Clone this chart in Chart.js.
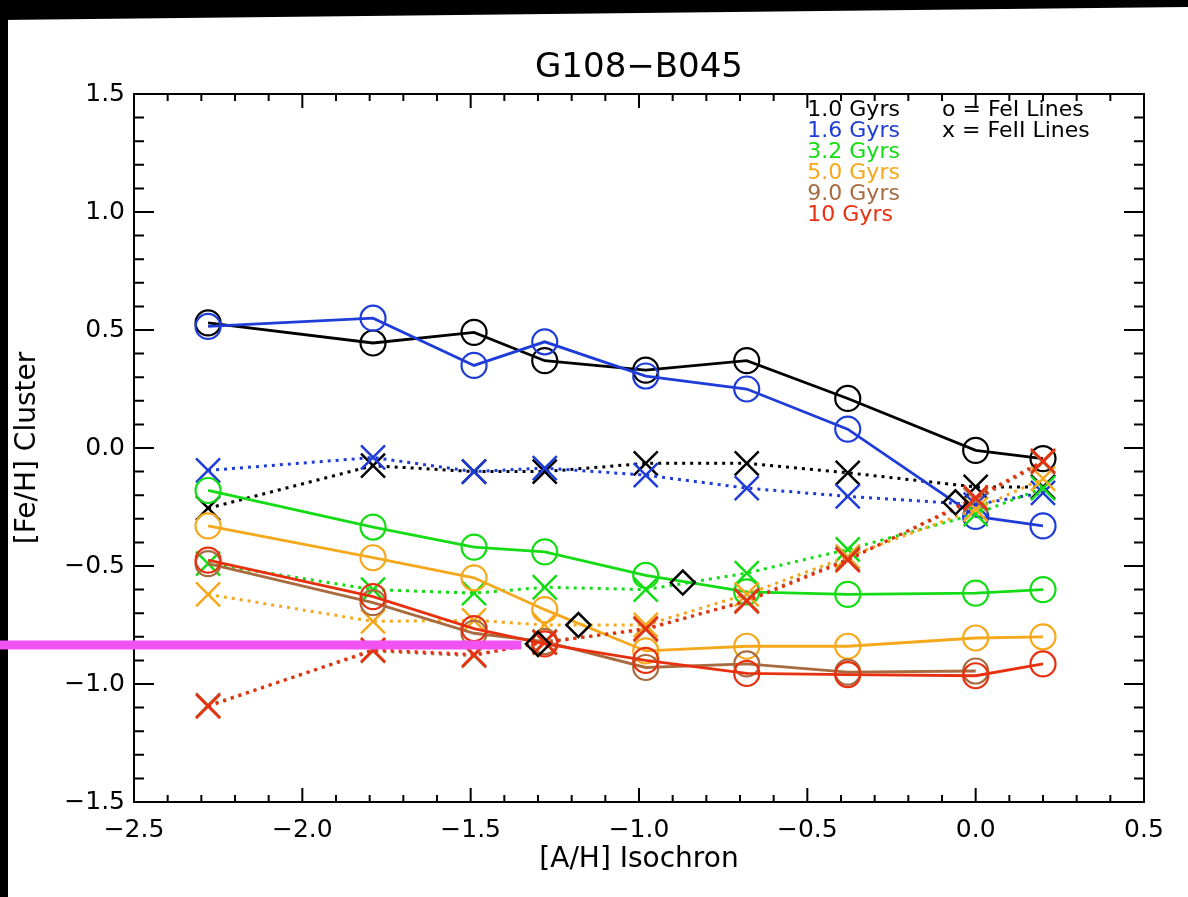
<!DOCTYPE html>
<html>
<head>
<meta charset="utf-8">
<title>G108-B045</title>
<style>
  html, body { margin: 0; padding: 0; background: #fff; }
  #wrap { width: 1188px; height: 897px; position: relative; }
</style>
<script src="https://cdn.jsdelivr.net/npm/chart.js@4.4.0/dist/chart.umd.min.js"></script>
</head>
<body>
<div id="wrap"><canvas id="chart"></canvas></div>
<script>
// [A/H] of the isochrones (x positions of every point)
const isoAH = [-2.28, -1.79, -1.49, -1.28, -0.98, -0.68, -0.38, 0.0, 0.2];

// [Fe/H] from FeI lines (circles, solid)
const feI_1p0 = [0.53, 0.445, 0.49, 0.37, 0.33, 0.37, 0.21, -0.01, -0.045];
const feI_1p6 = [0.515, 0.55, 0.35, 0.45, 0.305, 0.25, 0.08, -0.29, -0.33];
const feI_3p2 = [-0.18, -0.335, -0.42, -0.44, -0.54, -0.61, -0.62, -0.615, -0.60];
const feI_5p0 = [-0.33, -0.465, -0.55, -0.685, -0.86, -0.84, -0.84, -0.805, -0.80];
const feI_9p0 = [-0.49, -0.655, -0.785, -0.82, -0.93, -0.915, -0.95, -0.945, null];
const feI_10 = [-0.475, -0.63, -0.765, -0.83, -0.90, -0.955, -0.96, -0.965, -0.915];

// [Fe/H] from FeII lines (crosses, dotted)
const feII_1p0 = [-0.255, -0.075, -0.10, -0.10, -0.065, -0.065, -0.105, -0.165, -0.165];
const feII_1p6 = [-0.095, -0.04, -0.10, -0.085, -0.115, -0.17, -0.205, -0.24, -0.19];
const feII_3p2 = [-0.49, -0.60, -0.615, -0.59, -0.60, -0.53, -0.43, -0.28, -0.17];
const feII_5p0 = [-0.62, -0.735, -0.73, -0.75, -0.75, -0.62, -0.46, -0.26, -0.13];
const feII_9p0 = [-1.09, -0.86, -0.88, -0.82, -0.77, -0.645, -0.47, -0.22, -0.06];
const feII_10 = [-1.095, -0.855, -0.875, -0.825, -0.765, -0.65, -0.475, -0.21, -0.055];

// FeI = FeII crossings (diamonds)
const crossAH = [-0.06, -0.87, -1.18, -1.30];
const crossFe = [-0.23, -0.57, -0.75, -0.83];

// final value marker (magenta bar)
const resultAH = [-2.9, -1.35];
const resultFe = -0.835;

const ageLabels = ['1.0 Gyrs', '1.6 Gyrs', '3.2 Gyrs', '5.0 Gyrs', '9.0 Gyrs', '10 Gyrs'];
const ageColors = ['#000000', '#1e3cd7', '#14dc14', '#f5a81c', '#a86a3f', '#e8300f'];
const lineKeys = ['o = FeI Lines', 'x = FeII Lines'];

const xTicks = { min: -2.5, max: 0.5, step: 0.5 };
const yTicks = { min: -1.5, max: 1.5, step: 0.5 };

const FONT = '"DejaVu Sans", "Liberation Sans", sans-serif';

function pts(arr) {
  return isoAH.map((x, i) => ({ x: x, y: arr[i] }));
}

const feI = [feI_1p0, feI_1p6, feI_3p2, feI_5p0, feI_9p0, feI_10];
const feII = [feII_1p0, feII_1p6, feII_3p2, feII_5p0, feII_9p0, feII_10];

let datasets = [];
ageLabels.forEach((lab, k) => {
  datasets.push({
    label: lab + ' FeI',
    data: pts(feI[k]),
    showLine: true,
    borderColor: ageColors[k],
    borderWidth: 2.8,
    pointStyle: 'circle',
    pointRadius: 12.5,
    pointBorderWidth: 2.2,
    pointBackgroundColor: 'rgba(0,0,0,0)',
    pointBorderColor: ageColors[k]
  });
  datasets.push({
    label: lab + ' FeII',
    data: pts(feII[k]),
    showLine: true,
    borderColor: ageColors[k],
    borderWidth: 3,
    borderDash: [3, 5],
    pointStyle: 'crossRot',
    pointRadius: 17,
    pointBorderWidth: 2.5,
    pointBorderColor: ageColors[k]
  });
});
datasets.push({
  label: 'crossings',
  data: crossAH.map((x, i) => ({ x: x, y: crossFe[i] })),
  showLine: false,
  pointStyle: 'rectRot',
  pointRadius: 12,
  pointBorderWidth: 2.5,
  pointBorderColor: '#000',
  pointBackgroundColor: 'rgba(0,0,0,0)'
});
datasets.push({
  label: 'result',
  data: resultAH.map(x => ({ x: x, y: resultFe })),
  showLine: true,
  borderColor: '#f252f2',
  borderWidth: 9,
  borderCapStyle: 'butt',
  pointRadius: 0,
  clip: false
});
// later entries go on top, like the original plotting order
datasets.forEach((d, i) => { d.order = datasets.length - i; });

function fmt(v) {
  return v.toFixed(1).replace('-', '\u2212');
}

const framePlugin = {
  id: 'frame',
  beforeDraw(chart) {
    const ctx = chart.ctx;
    ctx.save();
    ctx.fillStyle = '#fff';
    ctx.fillRect(0, 0, chart.width, chart.height);
    ctx.fillStyle = '#000';
    ctx.beginPath();
    ctx.moveTo(0, 0);
    ctx.lineTo(chart.width, 0);
    ctx.lineTo(chart.width, 7);
    ctx.lineTo(0, 20);
    ctx.closePath();
    ctx.fill();
    ctx.fillRect(0, 0, 8, chart.height);
    ctx.restore();
  },
  beforeDatasetsDraw(chart) {
    const ctx = chart.ctx;
    const a = chart.chartArea;
    const xs = chart.scales.x, ys = chart.scales.y;
    ctx.save();
    ctx.strokeStyle = '#000';
    ctx.lineWidth = 2;
    ctx.strokeRect(a.left, a.top, a.right - a.left, a.bottom - a.top);
    ctx.beginPath();
    for (let i = 0; i <= 30; i++) {
      const px = xs.getPixelForValue(xTicks.min + i * 0.1);
      const len = i % 5 === 0 ? 14 : 7;
      ctx.moveTo(px, a.bottom); ctx.lineTo(px, a.bottom - len);
      ctx.moveTo(px, a.top); ctx.lineTo(px, a.top + len);
    }
    for (let i = 0; i <= 30; i++) {
      const py = ys.getPixelForValue(yTicks.min + i * 0.1);
      const len = i % 5 === 0 ? 20 : 10;
      ctx.moveTo(a.left, py); ctx.lineTo(a.left + len, py);
      ctx.moveTo(a.right, py); ctx.lineTo(a.right - len, py);
    }
    ctx.stroke();
    ctx.restore();
  },
  afterDatasetsDraw(chart) {
    const ctx = chart.ctx;
    const xs = chart.scales.x, ys = chart.scales.y;
    ctx.save();
    ctx.font = '22px ' + FONT;
    ctx.textAlign = 'left';
    ctx.textBaseline = 'alphabetic';
    ageLabels.forEach((lab, i) => {
      ctx.fillStyle = ageColors[i];
      ctx.fillText(lab, xs.getPixelForValue(-0.5), ys.getPixelForValue(1.407 - i * 0.089));
    });
    ctx.fillStyle = '#000';
    lineKeys.forEach((lab, i) => {
      ctx.fillText(lab, xs.getPixelForValue(-0.1), ys.getPixelForValue(1.407 - i * 0.089));
    });
    ctx.restore();
  }
};

new Chart(document.getElementById('chart'), {
  type: 'scatter',
  data: { datasets: datasets },
  plugins: [framePlugin],
  options: {
    responsive: true,
    maintainAspectRatio: false,
    animation: false,
    layout: { padding: { left: 0, right: 44, top: 0, bottom: 0 } },
    plugins: {
      legend: { display: false },
      tooltip: { enabled: false },
      title: {
        display: true,
        text: 'G108\u2212B045',
        color: '#000',
        fullSize: false,
        font: { family: FONT, size: 34, weight: 'normal' },
        padding: { top: 48, bottom: 5.2 }
      }
    },
    scales: {
      x: {
        type: 'linear',
        min: xTicks.min, max: xTicks.max,
        grid: { display: false, drawTicks: false },
        border: { display: false },
        afterFit(s) { s.height = 95; },
        ticks: {
          stepSize: xTicks.step,
          padding: 13,
          color: '#000',
          font: { family: FONT, size: 25 },
          callback: v => fmt(v)
        },
        title: {
          display: true,
          text: '[A/H] Isochron',
          color: '#000',
          font: { family: FONT, size: 28 },
          padding: { bottom: 20 }
        }
      },
      y: {
        type: 'linear',
        min: yTicks.min, max: yTicks.max,
        grid: { display: false, drawTicks: false },
        border: { display: false },
        afterFit(s) { s.width = 134; },
        ticks: {
          stepSize: yTicks.step,
          padding: 9,
          color: '#000',
          font: { family: FONT, size: 25 },
          callback: v => fmt(v)
        },
        title: {
          display: true,
          text: '[Fe/H] Cluster',
          color: '#000',
          font: { family: FONT, size: 28 },
          padding: { top: 11 }
        }
      }
    }
  }
});
</script>
</body>
</html>
